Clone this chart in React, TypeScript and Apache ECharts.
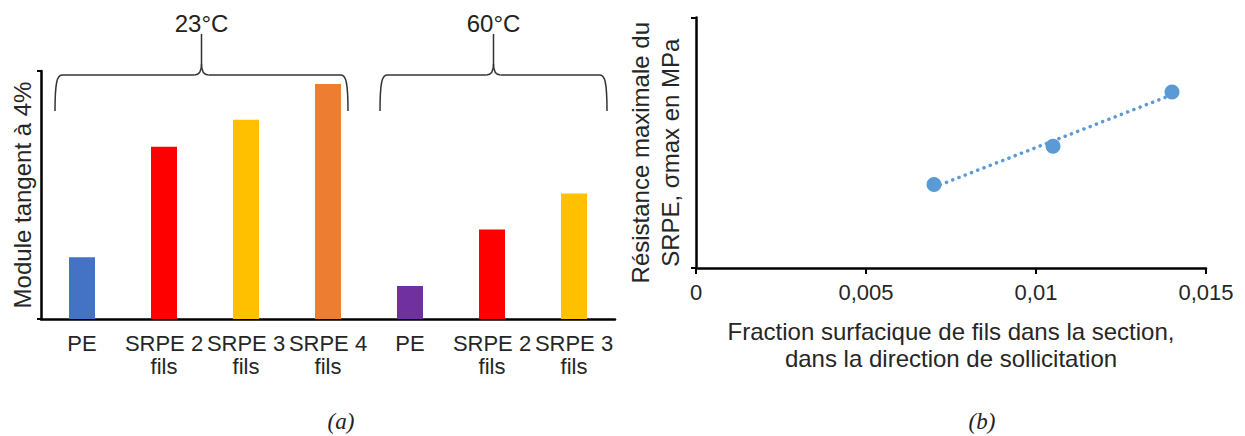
import React, { useEffect, useRef } from "react";
import * as echarts from "echarts";

// ---- data (a) ----
const barCategories = ["PE", "SRPE 2\nfils", "SRPE 3\nfils", "SRPE 4\nfils", "PE", "SRPE 2\nfils", "SRPE 3\nfils"];
const barValues = [24.9, 69.5, 80.3, 94.8, 13.3, 36.1, 50.6];
const barColors = ["#4472C4", "#FF0000", "#FFC000", "#ED7D31", "#7030A0", "#FF0000", "#FFC000"];
const groupLabels = ["23°C", "60°C"];
const groupFirst = [0, 4];
const groupLast = [3, 6];

// ---- data (b) ----
const fractionX = [0.007, 0.0105, 0.014];
const sigmaY = [33.3, 48.6, 70.2];

const FONT = "'Liberation Sans', Arial, sans-serif";
const TEXT = "#262626";

function linearFit(xs: number[], ys: number[]) {
  const n = xs.length;
  const mx = xs.reduce((a, b) => a + b, 0) / n;
  const my = ys.reduce((a, b) => a + b, 0) / n;
  let sxy = 0, sxx = 0;
  for (let i = 0; i < n; i++) {
    sxy += (xs[i] - mx) * (ys[i] - my);
    sxx += (xs[i] - mx) * (xs[i] - mx);
  }
  const slope = sxy / sxx;
  return { slope, intercept: my - slope * mx };
}

export default function App() {
  const ref = useRef<HTMLDivElement>(null);
  useEffect(() => {
    const chart = echarts.init(ref.current!, null, { renderer: "svg" });
    const fit = linearFit(fractionX, sigmaY);
    const xMin = Math.min(...fractionX);
    const xMax = Math.max(...fractionX);
    const trend = [
      [xMin, fit.intercept + fit.slope * xMin],
      [xMax, fit.intercept + fit.slope * xMax],
    ];
    const axisLine = { show: true, lineStyle: { color: "#000", width: 2.5 } };

    chart.setOption({
      animation: false,
      backgroundColor: "#fff",
      grid: [
        { left: 41, top: 71, width: 574, height: 248 },
        { left: 696, top: 13, width: 510, height: 255 },
      ],
      xAxis: [
        {
          type: "category",
          gridIndex: 0,
          data: barCategories,
          axisLine,
          axisTick: { show: false },
          axisLabel: {
            interval: 0,
            fontFamily: FONT,
            fontSize: 22,
            lineHeight: 23,
            color: TEXT,
            margin: 13,
          },
        },
        {
          type: "value",
          gridIndex: 1,
          min: 0,
          max: 0.015,
          interval: 0.005,
          axisLine,
          axisTick: { show: true, length: 6, lineStyle: { color: "#000", width: 2 } },
          splitLine: { show: false },
          axisLabel: {
            fontFamily: FONT,
            fontSize: 22,
            color: TEXT,
            margin: 13,
            formatter: (v: number) => String(+v.toFixed(4)).replace(".", ","),
          },
          name: "Fraction surfacique de fils dans la section,\ndans la direction de sollicitation",
          nameLocation: "middle",
          nameGap: 50,
          nameTextStyle: { fontFamily: FONT, fontSize: 24, lineHeight: 27, color: TEXT },
        },
      ],
      yAxis: [
        {
          type: "value",
          gridIndex: 0,
          min: 0,
          max: 100,
          interval: 100,
          axisLine,
          axisTick: { show: true, length: 4, lineStyle: { color: "#000", width: 2 } },
          axisLabel: { show: false },
          splitLine: { show: false },
          name: "Module tangent à 4%",
          nameLocation: "middle",
          nameGap: 7,
          nameTextStyle: { fontFamily: FONT, fontSize: 24, color: TEXT },
        },
        {
          type: "value",
          gridIndex: 1,
          min: 0,
          max: 100,
          interval: 100,
          axisLine,
          axisTick: { show: true, length: 5, lineStyle: { color: "#000", width: 2 } },
          axisLabel: { show: false },
          splitLine: { show: false },
          name: "Résistance maximale du\nSRPE, σmax en MPa",
          nameLocation: "middle",
          nameGap: 11,
          nameTextStyle: { fontFamily: FONT, fontSize: 24, lineHeight: 30, color: TEXT, padding: [0, 20, 0, 0] },
        },
      ],
      series: [
        {
          type: "bar",
          xAxisIndex: 0,
          yAxisIndex: 0,
          barWidth: 26,
          data: barValues.map((v, i) => ({ value: v, itemStyle: { color: barColors[i] } })),
        },
        {
          type: "line",
          xAxisIndex: 1,
          yAxisIndex: 1,
          data: trend,
          symbol: "none",
          z: 1,
          lineStyle: { color: "#5B9BD5", width: 3.5, type: [0.1, 6.6], cap: "round" },
        },
        {
          type: "scatter",
          xAxisIndex: 1,
          yAxisIndex: 1,
          data: fractionX.map((x, i) => [x, sigmaY[i]]),
          symbolSize: 15,
          z: 3,
          itemStyle: { color: "#5B9BD5", opacity: 1 },
        },
      ],
    });

    // braces above the two groups of bars
    const px = (i: number) => chart.convertToPixel({ xAxisIndex: 0 }, i) as number;
    const pads = [[27, 20], [30, 33]];
    const yTop = 75, yBot = 111, yCusp = 34;
    const stroke = { stroke: "#333", lineWidth: 1.5, fill: "none" };
    const graphic: any[] = [];
    groupLabels.forEach((label, g) => {
      const xl = px(groupFirst[g]) - pads[g][0];
      const xr = px(groupLast[g]) + pads[g][1];
      const xm = (xl + xr) / 2;
      graphic.push(
        { type: "bezierCurve", shape: { x1: xl, y1: yBot, x2: xl + 7, y2: yTop, cpx1: xl, cpy1: yTop + 8, cpx2: xl + 2, cpy2: yTop }, style: stroke },
        { type: "line", shape: { x1: xl + 7, y1: yTop, x2: xm - 7, y2: yTop }, style: stroke },
        { type: "bezierCurve", shape: { x1: xm - 7, y1: yTop, x2: xm, y2: yTop - 11, cpx1: xm - 2, cpy1: yTop, cpx2: xm, cpy2: yTop - 5 }, style: stroke },
        { type: "line", shape: { x1: xm, y1: yTop - 11, x2: xm, y2: yCusp }, style: stroke },
        { type: "bezierCurve", shape: { x1: xm + 7, y1: yTop, x2: xm, y2: yTop - 11, cpx1: xm + 2, cpy1: yTop, cpx2: xm, cpy2: yTop - 5 }, style: stroke },
        { type: "line", shape: { x1: xm + 7, y1: yTop, x2: xr - 7, y2: yTop }, style: stroke },
        { type: "bezierCurve", shape: { x1: xr, y1: yBot, x2: xr - 7, y2: yTop, cpx1: xr, cpy1: yTop + 8, cpx2: xr - 2, cpy2: yTop }, style: stroke },
        {
          type: "text",
          x: xm,
          y: 23,
          style: { text: label, fontFamily: FONT, fontSize: 24, fill: "#222", align: "center", verticalAlign: "middle" },
        }
      );
    });
    const serif = "'Liberation Serif', 'Times New Roman', serif";
    graphic.push(
      { type: "text", x: 341, y: 421, style: { text: "(a)", fontFamily: serif, fontStyle: "italic", fontSize: 23, fill: "#222", align: "center", verticalAlign: "middle" } },
      { type: "text", x: 982, y: 421, style: { text: "(b)", fontFamily: serif, fontStyle: "italic", fontSize: 23, fill: "#222", align: "center", verticalAlign: "middle" } }
    );
    chart.setOption({ graphic });

    return () => chart.dispose();
  }, []);
  return <div ref={ref} style={{ position: "absolute", left: 0, top: 0, width: 1245, height: 436 }} />;
}
